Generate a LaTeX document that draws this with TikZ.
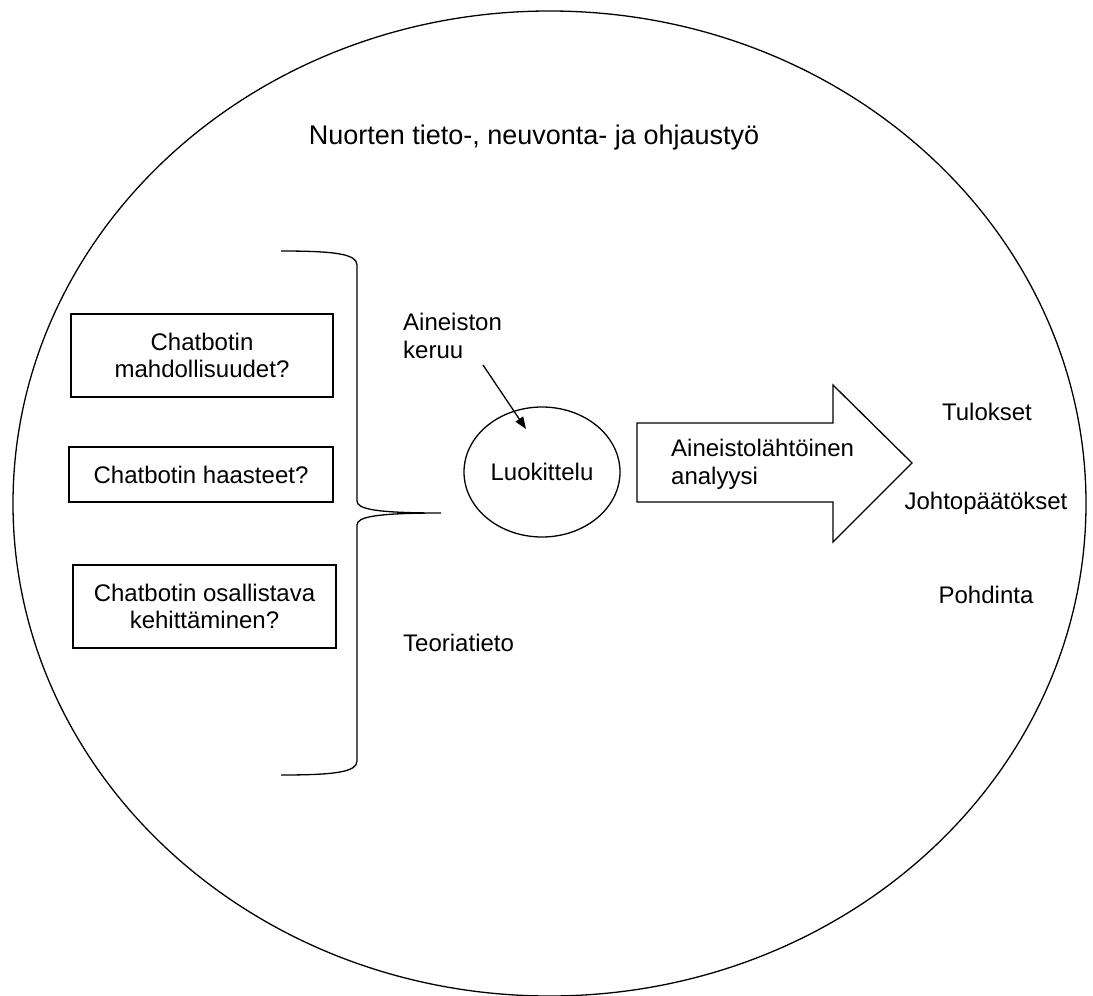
\documentclass[tikz,border=0pt]{standalone}
\usepackage{fontspec}
\setmainfont{Liberation Sans}
\usetikzlibrary{shapes.geometric,arrows.meta}
\begin{document}
\begin{tikzpicture}[x=1pt,y=-1pt,
  every node/.style={font=\fontsize{24}{27.6}\selectfont, text=black},
  line/.style={draw=black, line width=1.3pt},
  qbox/.style={line, rectangle, align=center, inner sep=0pt},
  lbl/.style={align=left, anchor=west, inner sep=0pt},
  clbl/.style={align=center, inner sep=0pt},
  pointer/.style={line, -{Triangle[length=12pt,width=9pt]}},
]
\useasboundingbox (0,0) rectangle (1093,996);

% outer frame
\draw[line] (549.5,503.5) ellipse [x radius=536.5, y radius=492.5];

% title
\node[clbl, font=\fontsize{27}{31}\selectfont] (title) at (534,138)
  {Nuorten tieto-, neuvonta- ja ohjaustyö};

% research questions
\node[qbox, minimum width=262pt, minimum height=83pt] (q1) at (202,355.5)
  {Chatbotin\\mahdollisuudet?};
\node[qbox, minimum width=264pt, minimum height=55pt] (q2) at (201,474.5)
  {Chatbotin haasteet?};
\node[qbox, minimum width=263pt, minimum height=83pt] (q3) at (204.5,606.5)
  {Chatbotin osallistava\\kehittäminen?};

% curly brace gathering the questions
\coordinate (bracetip) at (441,513);
\draw[line] (281,251) .. controls (335,251) and (357,254) .. (357,265)
  -- (357,501) .. controls (357,509) and (375,513) .. (bracetip)
  .. controls (375,513) and (357,517) .. (357,525)
  -- (357,761) .. controls (357,772) and (335,775) .. (281,775);

% data collection and classification
\node[lbl] (keruu) at (403,336) {Aineiston\\keruu};
\node[line, ellipse, minimum width=156pt, minimum height=130pt, inner sep=0pt]
  (luok) at (542,472) {Luokittelu};
\coordinate (kstart) at (483,365);
\coordinate (kend) at (526,429);
\draw[pointer] (kstart) -- (kend);

\node[lbl] (teoria) at (403,643) {Teoriatieto};

% block arrow for the analysis
\coordinate (a1) at (637,423);
\coordinate (a2) at (833,423);
\coordinate (a3) at (833,385);
\coordinate (atip) at (912,463);
\coordinate (a5) at (833,542);
\coordinate (a6) at (833,502);
\coordinate (a7) at (637,502);
\draw[line, line join=miter] (a1) -- (a2) -- (a3) -- (atip) -- (a5) -- (a6) -- (a7) -- cycle;
\node[lbl] (analyysi) at (671,464) {Aineistolähtöinen\\analyysi};

% outcomes
\node[clbl] (tulokset) at (987,412) {Tulokset};
\node[clbl] (johto) at (986,503) {Johtopäätökset};
\node[clbl] (pohdinta) at (986,595) {Pohdinta};
\end{tikzpicture}
\end{document}
